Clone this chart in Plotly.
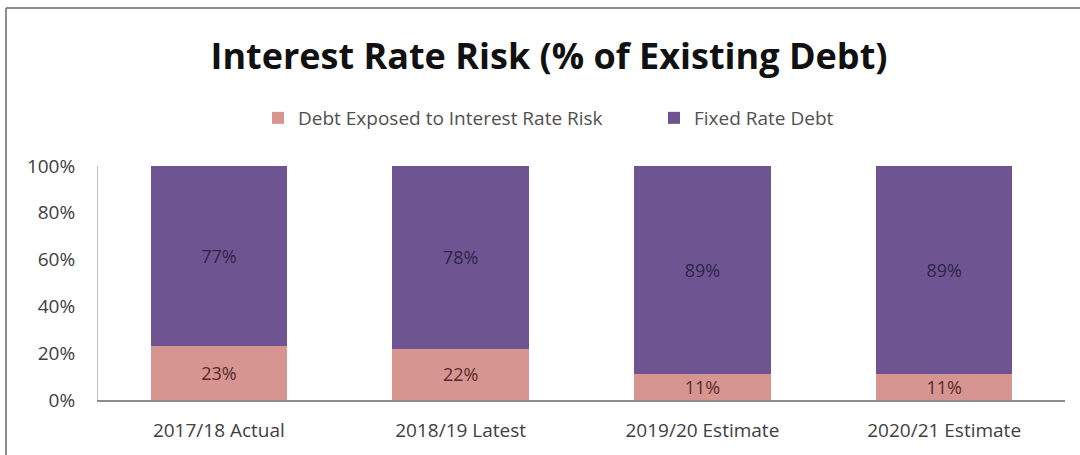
import plotly.graph_objects as go

categories = ["2017/18 Actual", "2018/19 Latest", "2019/20 Estimate", "2020/21 Estimate"]
exposed = [23, 22, 11, 11]
fixed = [77, 78, 89, 89]
y_ticks = [0, 20, 40, 60, 80, 100]
y_tick_labels = ["0%", "20%", "40%", "60%", "80%", "100%"]

W, H = 1080, 455
ML, MR, MT, MB = 98, 15, 166, 55
PW, PH = W - ML - MR, H - MT - MB


def px_x(px):
    return (px - ML) / PW


def px_y(py):
    return (H - MB - py) / PH


PINK = "#D69591"
PURPLE = "#6E5592"
FONT = "Open Sans"

fig = go.Figure()
fig.add_trace(go.Bar(
    x=categories, y=exposed, name="Debt Exposed to Interest Rate Risk",
    marker=dict(color=PINK, line=dict(width=0)),
    text=[f"{v}%" for v in exposed], textposition="inside", insidetextanchor="middle",
    textfont=dict(color="#5A2A2E", size=18, family=FONT),
))
fig.add_trace(go.Bar(
    x=categories, y=fixed, name="Fixed Rate Debt",
    marker=dict(color=PURPLE, line=dict(width=0)),
    text=[f"{v}%" for v in fixed], textposition="inside", insidetextanchor="middle",
    textfont=dict(color="#2E2448", size=18, family=FONT),
))

# outer frame: top and left edges
fig.add_shape(type="line", xref="paper", yref="paper",
              x0=px_x(6), x1=px_x(1082), y0=px_y(8), y1=px_y(8),
              line=dict(color="#8C8C8C", width=2))
fig.add_shape(type="line", xref="paper", yref="paper",
              x0=px_x(6), x1=px_x(6), y0=px_y(8), y1=px_y(460),
              line=dict(color="#8C8C8C", width=2))

fig.update_layout(
    width=W, height=H,
    margin=dict(l=ML, r=MR, t=MT, b=MB),
    paper_bgcolor="white", plot_bgcolor="white",
    barmode="stack", bargap=0.435,
    uniformtext=dict(mode="show", minsize=18),
    title=dict(text="<b>Interest Rate Risk (% of Existing Debt)</b>",
               x=549 / W, xanchor="center", xref="container",
               y=1 - 56 / H, yanchor="middle", yref="container",
               font=dict(family=FONT, size=36, color="#111111")),
    legend=dict(orientation="h", x=258 / W, xanchor="left", xref="container",
                y=1 - 118 / H, yanchor="middle", yref="container",
                font=dict(family=FONT, size=19, color="#505050"),
                itemwidth=30, entrywidth=351, entrywidthmode="pixels",
                traceorder="normal"),
    showlegend=True,
)
fig.update_xaxes(showline=True, linecolor="#8C8C8C", linewidth=1.5,
                 ticks="", showgrid=False, ticklabelstandoff=12,
                 tickfont=dict(family=FONT, size=19, color="#404040"))
fig.update_yaxes(range=[0, 100], tickvals=y_ticks, ticktext=y_tick_labels,
                 showline=True, linecolor="#BFBFBF", linewidth=1,
                 ticks="", showgrid=False, zeroline=False, ticklabelstandoff=18,
                 tickfont=dict(family=FONT, size=19, color="#404040"))

fig.write_html("out.html")
